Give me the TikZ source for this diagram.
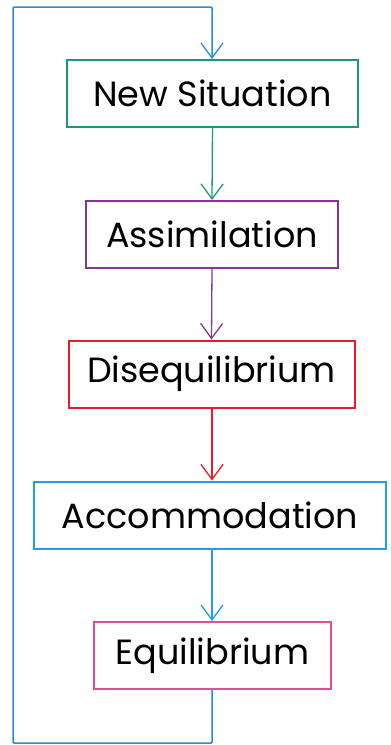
\documentclass[tikz,border=0pt]{standalone}
\usepackage{fontspec}
\setmainfont{Poppins}
\usetikzlibrary{arrows.meta}

\definecolor{cgreen}{RGB}{26,154,118}
\definecolor{cpurple}{RGB}{128,58,150}
\definecolor{cred}{RGB}{232,28,44}
\definecolor{cblue}{RGB}{32,160,222}
\definecolor{cpink}{RGB}{226,78,150}
\definecolor{cloop}{RGB}{40,140,215}

\begin{document}
\begin{tikzpicture}[x=1pt,y=-1pt,
  stage/.style={draw, line width=2pt, fill=white, minimum height=67pt, inner sep=0pt,
                font=\fontsize{35}{40}\selectfont},
  link/.style={line width=1.3pt, -{Straight Barb[length=15pt,width=22pt,line width=1.3pt]}}]
  \useasboundingbox (0,0) rectangle (391,745);

  \node[stage, draw=cgreen, minimum width=291pt]  (ns) at (212.5,93.5)  {New Situation};
  \node[stage, draw=cpurple, minimum width=252pt] (as) at (212,234.5)   {Assimilation};
  \node[stage, draw=cred, minimum width=286pt]    (di) at (211.5,374)   {Disequilibrium};
  \node[stage, draw=cblue, minimum width=352pt]   (ac) at (210,515)     {Accommodation};
  \node[stage, draw=cpink, minimum width=237pt]   (eq) at (212.5,655.5) {Equilibrium};

  \draw[link, cgreen]  (ns.south) -- (as.north);
  \draw[link, cpurple] (as.south) -- (di.north);
  \draw[link, cred]    (di.south -| as.south) -- (ac.north -| as.south);
  \draw[link, cblue]   (ac.south -| as.south) -- (eq.north -| as.south);

  % feedback loop from the last stage back to the first
  \coordinate (lb) at (212,743);
  \coordinate (lt) at (13,7);
  \draw[link, cloop, line width=1.5pt, rounded corners=1pt]
    (eq.south -| as.south) -- (lb) -| (lt) -| (ns.north -| as.south);
\end{tikzpicture}
\end{document}
